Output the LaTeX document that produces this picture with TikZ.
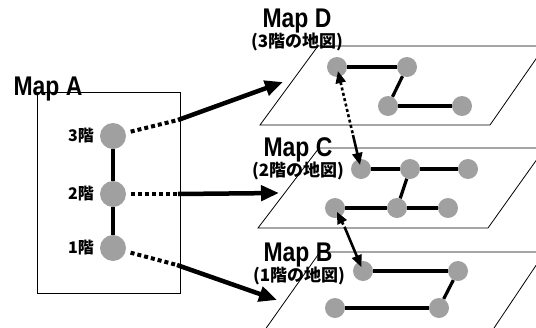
\documentclass[tikz,border=0pt]{standalone}
\usepackage{fontspec}
\setmainfont{Liberation Sans}
\newfontfamily\cjk{Noto Sans CJK JP}
\usetikzlibrary{arrows.meta}
\definecolor{ballgray}{RGB}{160,160,160}
\tikzset{smalltip/.tip={Triangle[length=12pt,width=10pt]}}
\begin{document}
\begin{tikzpicture}[x=1pt,y=-1pt,
  ball/.style={circle, fill=ballgray, inner sep=0pt, minimum size=20pt},
  bigball/.style={ball, minimum size=26pt},
  plane/.style={draw, line width=0.8pt},
  frame/.style={draw, line width=0.8pt},
  link/.style={line width=3.2pt},
  feed/.style={line width=4pt, dash pattern=on 4pt off 3pt},
  feedarrow/.style={line width=4.5pt, -{Triangle[length=18pt,width=15pt]}},
  jump/.style={line width=2.6pt, dash pattern=on 3pt off 2.5pt},
  jumparrow/.style={line width=2.6pt},
  title/.style={font=\bfseries\fontsize{27}{27}\selectfont, xscale=0.85, anchor=base, inner sep=0pt},
  sub/.style={font=\cjk\bfseries\fontsize{17}{17}\selectfont, inner sep=0pt},
  floor/.style={font=\cjk\bfseries\fontsize{16}{16}\selectfont, inner sep=0pt, anchor=east}]
\useasboundingbox (0,0) rectangle (536,327);
\clip (0,0) rectangle (536,327);

% titles
\node[title] (tA) at (48,95) {Map A};
\node[title] (tD) at (297,27) {Map D};
\node[title] (tC) at (298,156) {Map C};
\node[title] (tB) at (298,261) {Map B};
\node[sub] (sD) at (297,41.5) {(3階の地図)};
\node[sub] (sC) at (298,171) {(2階の地図)};
\node[sub] (sB) at (299,276) {(1階の地図)};

% Map A frame
\draw[frame] (37,92) rectangle (180,293);

% planes
\draw[plane] (318,46) -- (545,46) -- (490,125) -- (260,125) -- cycle;
\draw[plane] (319,148) -- (545,148) -- (488,228) -- (258,228) -- cycle;
\draw[plane] (320,252) -- (545,252) -- (490,334) -- (262,334) -- cycle;

% Map A
\node[bigball] (a3) at (113,136) {};
\node[bigball] (a2) at (113,194) {};
\node[bigball] (a1) at (113,248) {};
\node[floor] (l3) at (94,136) {3階};
\node[floor] (l2) at (94,194) {2階};
\node[floor] (l1) at (94,248) {1階};

% Map D
\node[ball] (d1) at (337,67) {};
\node[ball] (d2) at (407,67) {};
\node[ball] (d3) at (388,106) {};
\node[ball] (d4) at (462,106) {};
% Map C
\node[ball] (c1) at (361,169) {};
\node[ball] (c2) at (410,169) {};
\node[ball] (c3) at (468,169) {};
\node[ball] (c4) at (335,208) {};
\node[ball] (c5) at (397,208) {};
\node[ball] (c6) at (448,208) {};
% Map B
\node[ball] (b1) at (363,271) {};
\node[ball] (b2) at (458,271) {};
\node[ball] (b3) at (439,308) {};
\node[ball] (b4) at (335,308) {};

% links
\draw[link] (a3) -- (a2);
\draw[link] (a2) -- (a1);
\draw[link] (d1) -- (d2);
\draw[link] (d2) -- (d3);
\draw[link] (d3) -- (d4);
\draw[link] (c1) -- (c2);
\draw[link] (c2) -- (c3);
\draw[link] (c2) -- (c5);
\draw[link] (c4) -- (c5);
\draw[link] (c5) -- (c6);
\draw[link] (b1) -- (b2);
\draw[link] (b2) -- (b3);
\draw[link] (b3) -- (b4);

% arrows from Map A
\coordinate (k3) at (178,120);
\coordinate (t3) at (283,82);
\coordinate (k2) at (178,194);
\coordinate (t2) at (279,193);
\coordinate (k1) at (177,265);
\coordinate (t1) at (277,300);
\draw[feed, shorten <=5pt] (a3) -- (k3);
\draw[feedarrow] (k3) -- (t3);
\draw[feed, shorten <=5pt] (a2) -- (k2);
\draw[feedarrow] (k2) -- (t2);
\draw[feed, shorten <=5pt] (a1) -- (k1);
\draw[feedarrow] (k1) -- (t1);

% arrows between floors
\coordinate (m1) at (353,135);
\coordinate (m2) at (345,228);
\draw[jump, {smalltip}-, shorten <=-6pt] (d1) -- (m1);
\draw[jumparrow, -{smalltip}, shorten >=-6pt] (m1) -- (c1);
\draw[jump, {smalltip}-, shorten <=-6pt] (c4) -- (m2);
\draw[jumparrow, -{smalltip}, shorten >=-6pt] (m2) -- (b1);
\end{tikzpicture}
\end{document}
